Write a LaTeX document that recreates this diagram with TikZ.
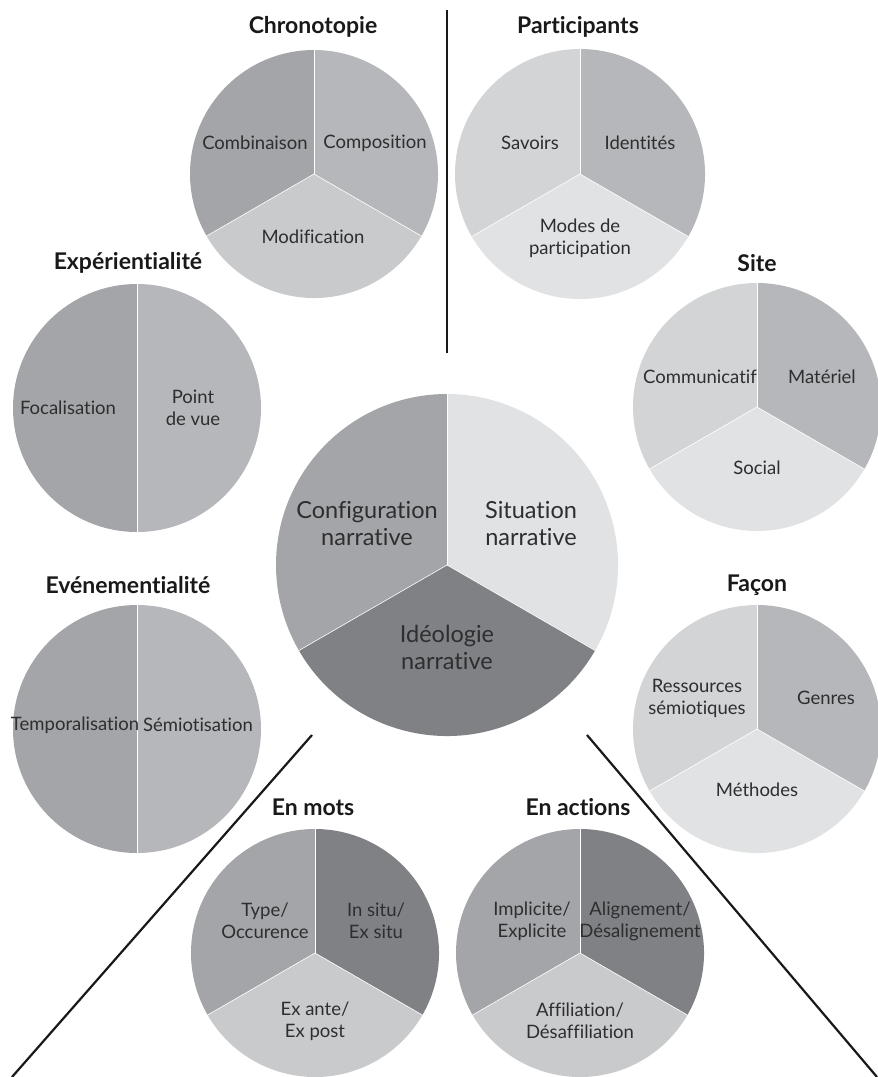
\documentclass[tikz,border=0pt]{standalone}
\usepackage{fontspec}
\setmainfont{Lato}[Ligatures=NoCommon]
\definecolor{gA}{HTML}{808185}
\definecolor{gB}{HTML}{A4A5A8}
\definecolor{gC}{HTML}{B6B7BA}
\definecolor{gD}{HTML}{C9CACC}
\definecolor{gE}{HTML}{D3D4D6}
\definecolor{gF}{HTML}{E1E2E4}
\definecolor{ink}{HTML}{2E2E30}

% three sectors: center x, center y, radius, left, right, bottom
\newcommand{\troisparts}[6]{%
    \fill[#4] (#1,#2) -- ++(90:#3) arc[start angle=90, end angle=210, radius=#3] -- cycle;
    \fill[#5] (#1,#2) -- ++(-30:#3) arc[start angle=-30, end angle=90, radius=#3] -- cycle;
    \fill[#6] (#1,#2) -- ++(210:#3) arc[start angle=210, end angle=330, radius=#3] -- cycle;
    \draw[sep] (#1,#2) -- ++(90:#3);
    \draw[sep] (#1,#2) -- ++(210:#3);
    \draw[sep] (#1,#2) -- ++(330:#3);
}
% two halves: center x, center y, radius, left, right
\newcommand{\deuxparts}[5]{%
    \fill[#4] (#1,#2) -- ++(90:#3) arc[start angle=90, end angle=270, radius=#3] -- cycle;
    \fill[#5] (#1,#2) -- ++(-90:#3) arc[start angle=-90, end angle=90, radius=#3] -- cycle;
    \draw[sep] (#1,#2) ++(90:#3) -- ++(0,-2*#3);
}

\tikzset{
    sep/.style={white, line width=0.6pt},
    titre/.style={font=\fontsize{23}{27}\selectfont\bfseries, text=black!90},
    part/.style={font=\fontsize{18.5}{22}\selectfont, text=ink, align=center, inner sep=0pt},
    partbig/.style={font=\fontsize{23.5}{27}\selectfont, text=ink, align=center, inner sep=0pt},
    trait/.style={black!90, line width=2.2pt}
}

\begin{document}
\begin{tikzpicture}[x=1pt, y=1pt]
    \useasboundingbox (0,0) rectangle (878,-1077);

    % dividing lines
    \coordinate (vtop) at (447,-10);
    \coordinate (vbot) at (447,-353);
    \coordinate (gtop) at (312,-735);
    \coordinate (gbot) at (12,-1077);
    \coordinate (dtop) at (587,-735);
    \coordinate (dbot) at (877,-1077);
    \draw[trait, line width=2.6pt] (vtop) -- (vbot);
    \draw[trait] (gtop) -- (gbot);
    \draw[trait] (dtop) -- (dbot);

    % centre
    \troisparts{447}{-565}{171}{gB}{gF}{gA}
    \node[partbig] (config) at (367,-524) {Configuration\\narrative};
    \node[partbig] (situ) at (531,-524) {Situation\\narrative};
    \node[partbig] (ideo) at (447,-647) {Idéologie\\narrative};

    % Chronotopie
    \troisparts{314}{-174}{124}{gB}{gC}{gD}
    \node[titre] (chrono) at (313,-27) {Chronotopie};
    \node[part] (combi) at (255,-143) {Combinaison};
    \node[part] (compo) at (375,-143) {Composition};
    \node[part] (modif) at (313,-237) {Modification};

    % Participants
    \troisparts{580}{-174}{125}{gE}{gC}{gF}
    \node[titre] (partic) at (578,-27) {Participants};
    \node[part] (savoirs) at (530,-143) {Savoirs};
    \node[part] (ident) at (640,-143) {Identités};
    \node[part] (modes) at (580,-238) {Modes de\\participation};

    % Expérientialité
    \deuxparts{137}{-408}{124}{gB}{gC}
    \node[titre] (exper) at (128,-263) {Expérientialité};
    \node[part] (focal) at (68,-408) {Focalisation};
    \node[part] (pdv) at (193,-408) {Point\\de vue};

    % Site
    \troisparts{757}{-407}{124}{gE}{gC}{gF}
    \node[titre] (site) at (757,-263) {Site};
    \node[part] (commu) at (700,-377) {Communicatif};
    \node[part] (mater) at (822,-377) {Matériel};
    \node[part] (social) at (757,-468) {Social};

    % Evénementialité
    \deuxparts{137}{-729}{124}{gB}{gC}
    \node[titre] (event) at (128,-585) {Evénementialité};
    \node[part] (tempo) at (75,-725) {Temporalisation};
    \node[part] (semio) at (198,-725) {Sémiotisation};

    % Façon
    \troisparts{757}{-729}{124}{gE}{gC}{gF}
    \node[titre] (facon) at (757,-585) {Façon};
    \node[part] (ressou) at (697,-698) {Ressources\\sémiotiques};
    \node[part] (genres) at (826,-698) {Genres};
    \node[part] (method) at (757,-790) {Méthodes};

    % En mots
    \troisparts{315}{-953}{124}{gB}{gA}{gD}
    \node[titre] (mots) at (313,-807) {En mots};
    \node[part] (type) at (265,-921) {Type/\\Occurence};
    \node[part] (insitu) at (376,-921) {In situ/\\Ex situ};
    \node[part] (exante) at (315,-1021) {Ex ante/\\Ex post};

    % En actions
    \troisparts{580}{-953}{124}{gB}{gA}{gD}
    \node[titre] (actions) at (578,-807) {En actions};
    \node[part] (implic) at (532,-921) {Implicite/\\Explicite};
    \node[part] (align) at (640,-921) {Alignement/\\Désalignement};
    \node[part] (affil) at (580,-1021) {Affiliation/\\Désaffiliation};
\end{tikzpicture}
\end{document}
